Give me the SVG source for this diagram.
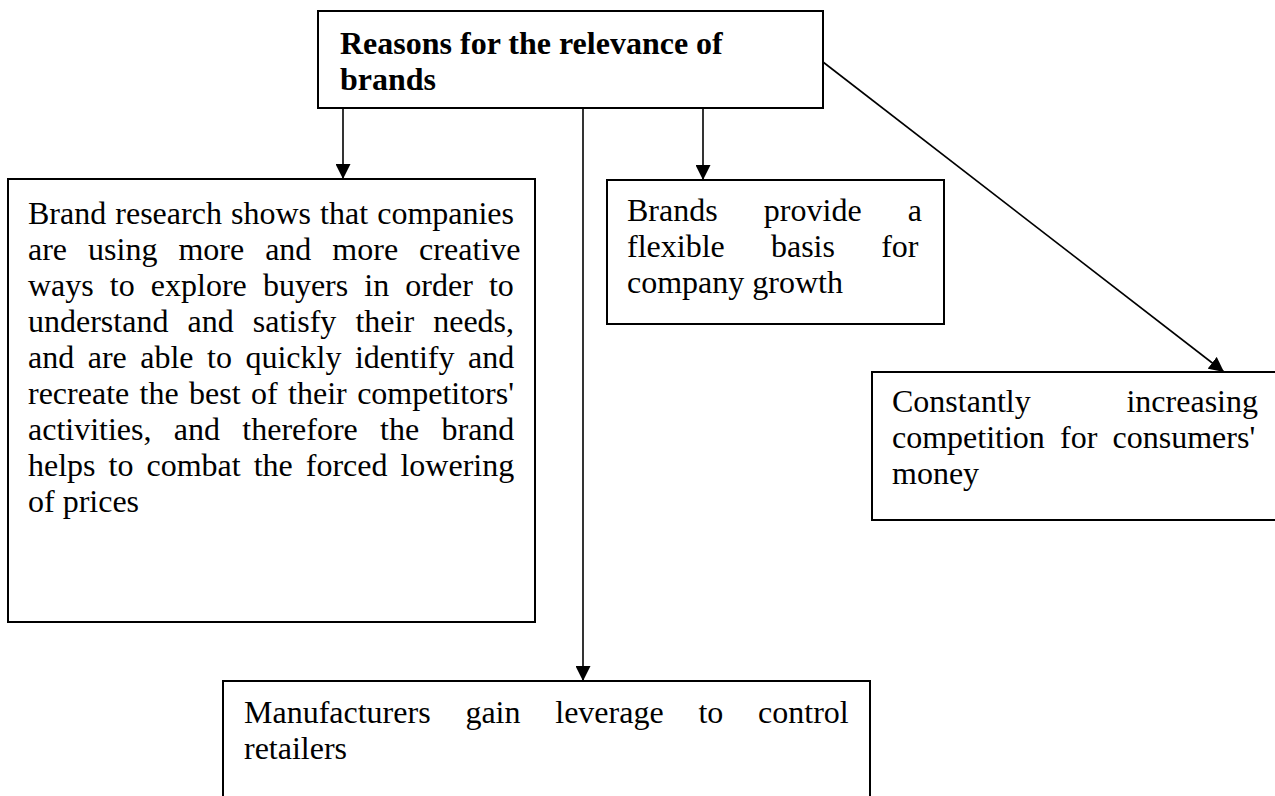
<svg xmlns="http://www.w3.org/2000/svg" width="1275" height="796" viewBox="0 0 1275 796">
  <style>
    .box { fill: #ffffff; stroke: #000000; stroke-width: 2; }
    .txt { font-family: "Liberation Serif", "Times New Roman", serif; font-size: 32px; fill: #000000; }
    .bold { font-weight: bold; }
    .wire { stroke: #000000; stroke-width: 1.6; fill: none; marker-end: url(#head); }
  </style>
  <defs>
    <marker id="head" viewBox="0 0 15 15" refX="15" refY="7.5" markerWidth="15" markerHeight="15" markerUnits="userSpaceOnUse" orient="auto">
      <path d="M0,0 L15,7.5 L0,15 z" fill="#000000"/>
    </marker>
  </defs>

  <rect width="1275" height="796" fill="#ffffff"/>

  <!-- connectors -->
  <g id="connectors">
    <line class="wire" x1="343" y1="108" x2="343" y2="179"/>
    <line class="wire" x1="583" y1="108" x2="583" y2="681"/>
    <line class="wire" x1="703" y1="108" x2="703" y2="180"/>
    <line class="wire" x1="823" y1="62" x2="1224" y2="372"/>
  </g>

  <!-- root -->
  <g id="node-root">
    <rect class="box" x="318" y="11" width="505" height="97"/>
    <text class="txt bold" x="340" y="54">Reasons for the relevance of</text>
    <text class="txt bold" x="340" y="90">brands</text>
  </g>

  <!-- left: brand research -->
  <g id="node-research">
    <rect class="box" x="8" y="179" width="527" height="443"/>
    <text class="txt" x="28" y="224" style="word-spacing:1.1px">Brand research shows that companies</text>
    <text class="txt" x="28" y="260" style="word-spacing:13px">are using more and more creative</text>
    <text class="txt" x="28" y="296" style="word-spacing:8.1px">ways to explore buyers in order to</text>
    <text class="txt" x="28" y="332" style="word-spacing:11.1px">understand and satisfy their needs,</text>
    <text class="txt" x="28" y="368" style="word-spacing:5.5px">and are able to quickly identify and</text>
    <text class="txt" x="28" y="404" style="word-spacing:2.4px">recreate the best of their competitors'</text>
    <text class="txt" x="28" y="440" style="word-spacing:14.3px">activities, and therefore the brand</text>
    <text class="txt" x="28" y="476" style="word-spacing:5px">helps to combat the forced lowering</text>
    <text class="txt" x="28" y="512">of prices</text>
  </g>

  <!-- middle: growth -->
  <g id="node-growth">
    <rect class="box" x="607" y="180" width="337" height="144"/>
    <text class="txt" x="627" y="221" style="word-spacing:38.2px">Brands provide a</text>
    <text class="txt" x="627" y="257" style="word-spacing:38.2px">flexible basis for</text>
    <text class="txt" x="627" y="293">company growth</text>
  </g>

  <!-- right: competition -->
  <g id="node-competition">
    <rect class="box" x="872" y="372" width="420" height="148"/>
    <text class="txt" x="892" y="412" style="word-spacing:87.8px">Constantly increasing</text>
    <text class="txt" x="892" y="448" style="word-spacing:7.2px">competition for consumers'</text>
    <text class="txt" x="892" y="484">money</text>
  </g>

  <!-- bottom: leverage -->
  <g id="node-leverage">
    <rect class="box" x="223" y="681" width="647" height="140"/>
    <text class="txt" x="244" y="723" style="word-spacing:26.8px">Manufacturers gain leverage to control</text>
    <text class="txt" x="244" y="759">retailers</text>
  </g>
</svg>
